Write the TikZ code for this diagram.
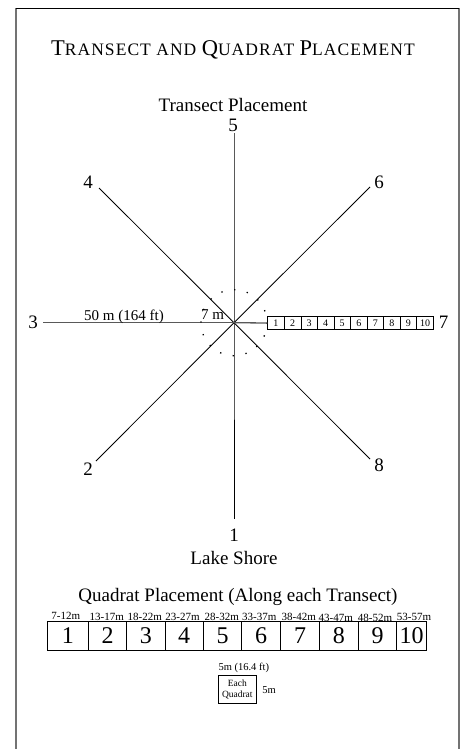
\documentclass[tikz,border=0pt]{standalone}
\usepackage{fontspec}
\setmainfont{Liberation Serif}
\newcommand{\bigc}[1]{{\fontsize{22.5}{24}\selectfont #1}}
\newcommand{\smc}[1]{{\fontsize{17.5}{19}\selectfont\addfontfeature{LetterSpace=6}#1}}
\begin{document}
\begin{tikzpicture}[x=1pt,y=-1pt,
  lbl/.style={inner sep=0pt,font=\fontsize{19}{21}\selectfont},
  rng/.style={inner sep=0pt,font=\fontsize{11}{13}\selectfont},
  tline/.style={draw=black,line width=0.8pt},
  hline/.style={draw=black!65,line width=1.3pt},
  scell/.style={draw=black,line width=0.6pt,minimum height=12.6pt,inner sep=0pt,font=\fontsize{10}{11}\selectfont},
  qcell/.style={draw=black,line width=0.8pt,minimum height=28.3pt,inner sep=0pt,font=\fontsize{24}{26}\selectfont},
  frame/.style={draw=black!55,line width=1.5pt}]
\useasboundingbox (0,0) rectangle (461,749);
% frame
\coordinate (f1) at (16,749);
\coordinate (f2) at (16,8);
\coordinate (f3) at (459,8);
\coordinate (f4) at (459,749);
\draw[frame] (f1) -- (f2);
\draw[frame] (f3) -- (f4);
\draw[draw=black,line width=0.9pt] (f2) -- (f3);
% title
\node[inner sep=0pt] (title) at (233,50) {\bigc{T}\smc{RANSECT AND }\bigc{Q}\smc{UADRAT }\bigc{P}\smc{LACEMENT}};
\node[lbl] (tp) at (233,105.5) {Transect Placement};
% transects
\coordinate (c) at (234,322.7);
\coordinate (e5) at (234,133);
\coordinate (e1) at (234,519);
\coordinate (e3) at (43,322.7);
\coordinate (e4) at (99,188);
\coordinate (e6) at (370,187);
\coordinate (e2) at (96,461);
\coordinate (e8) at (370,459);
\draw[tline] (e5) -- (c) -- (e1);
\draw[tline] (e4) -- (c) -- (e8);
\draw[tline] (e2) -- (c) -- (e6);
\draw[hline] (e3) -- (c);
% dotted circle
\draw[black,line width=1.3pt,dash pattern=on 1.3pt off 11.66pt] (c) circle[radius=33];
% small cells along transect 7
\foreach \i in {1,...,10}{
  \node[scell,minimum width=16.6pt] (s\i) at ({267.7+16.56*(\i-0.5)},323) {\i};
}
\draw[hline] (c) -- (s1.west);
% labels
\node[lbl] (l5) at (233,125) {5};
\node[lbl] (l4) at (88,182) {4};
\node[lbl] (l6) at (379,182) {6};
\node[lbl] (l3) at (33,322) {3};
\node[lbl] (l7) at (443.5,322) {7};
\node[lbl] (l2) at (88,469.5) {2};
\node[lbl] (l8) at (379,465) {8};
\node[lbl] (l1) at (234,535.5) {1};
\node[lbl] (ls) at (234,557.5) {Lake Shore};
\node[inner sep=0pt,anchor=base,font=\fontsize{15}{17}\selectfont] (d50) at (124,320) {50 m (164 ft)};
\node[inner sep=0pt,anchor=base,font=\fontsize{15}{17}\selectfont] (d7) at (212.7,319.3) {7 m};
% quadrat placement
\node[lbl] (qp) at (238,597) {Quadrat Placement (Along each Transect)};
\foreach \a/\b [count=\i] in {47.3/88.3, 88.3/126.7, 126.7/165, 165/203.3, 203.3/241.7, 241.7/280.7, 280.7/319.3, 319.3/358.3, 358.3/396.7, 396.7/426.7}{
  \node[qcell,minimum width={(\b-\a)*1pt}] (q\i) at ({(\a+\b)/2},635.85) {\i};
}
\node[rng] (r1) at (65.7,615.5) {7-12m};
\node[rng] (r2) at (106.7,616.5) {13-17m};
\node[rng] (r3) at (144.7,616.5) {18-22m};
\node[rng] (r4) at (182.5,616.5) {23-27m};
\node[rng] (r5) at (221.7,616.5) {28-32m};
\node[rng] (r6) at (259.2,616.5) {33-37m};
\node[rng] (r7) at (298.7,616.5) {38-42m};
\node[rng] (r8) at (335.8,617.5) {43-47m};
\node[rng] (r9) at (375,617.5) {48-52m};
\node[rng] (r10) at (414,616.5) {53-57m};
% each quadrat
\node[draw=black,line width=0.8pt,minimum width=38.7pt,minimum height=27.6pt,inner sep=0pt,align=center,font=\fontsize{9.5}{11.5}\selectfont] (eq) at (237.3,689.5) {Each\\Quadrat};
\node[inner sep=0pt,font=\fontsize{10.5}{12}\selectfont] (w5) at (243.8,668.3) {5m (16.4 ft)};
\node[inner sep=0pt,font=\fontsize{10.5}{12}\selectfont] (h5) at (269,690) {5m};
\end{tikzpicture}
\end{document}
